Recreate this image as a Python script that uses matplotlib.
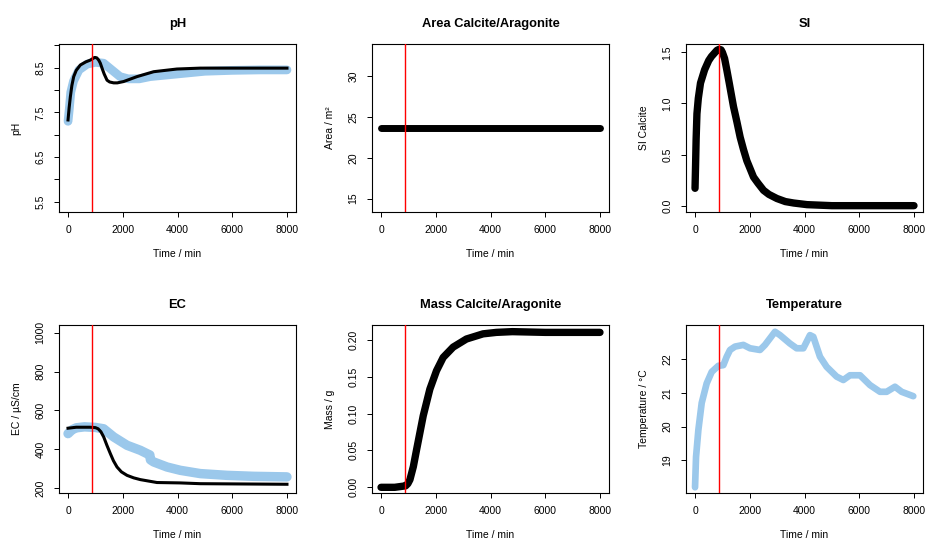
import matplotlib.pyplot as plt
import numpy as np

plt.rcParams['font.family'] = ['Liberation Sans', 'DejaVu Sans']

# valores
t_exp = 870  # linea roja

ph_mod_t = [0, 40, 85, 140, 207, 300, 450, 650, 816, 974, 1050, 1120, 1180, 1242, 1320, 1425, 1520, 1668, 1800,
            2033, 2520, 3130, 3980, 4834, 6000, 8000]
ph_mod = [7.33, 7.6, 7.85, 8.1, 8.30, 8.44, 8.56, 8.63, 8.67, 8.73, 8.72, 8.67, 8.6, 8.49, 8.36, 8.22, 8.18, 8.16,
          8.16, 8.19, 8.30, 8.41, 8.47, 8.49, 8.49, 8.49]
ph_obs_t = [0, 50, 100, 200, 400, 700, 1000, 1300, 1600, 1900, 2200, 2600, 3000, 4000, 5000, 6000, 7000, 8000]
ph_obs = [7.3, 7.6, 7.95, 8.2, 8.45, 8.58, 8.62, 8.6, 8.45, 8.3, 8.25, 8.25, 8.3, 8.36, 8.42, 8.44, 8.45, 8.45]

area_t = [0, 2000, 4000, 6000, 8000]
area = [23.6, 23.6, 23.6, 23.6, 23.6]

si_t = [0, 20, 40, 70, 120, 200, 350, 500, 600, 700, 800, 880, 950, 1000, 1080, 1160, 1250, 1405, 1530, 1649, 1770,
        1893, 2000, 2137, 2300, 2504, 2700, 2992, 3300, 3603, 4092, 5000, 6000, 8000]
si = [0.17, 0.4, 0.65, 0.9, 1.05, 1.2, 1.33, 1.42, 1.46, 1.49, 1.52, 1.53, 1.525, 1.5, 1.44, 1.33, 1.2, 0.97, 0.82,
      0.67, 0.55, 0.44, 0.37, 0.28, 0.22, 0.15, 0.11, 0.07, 0.04, 0.026, 0.01, 0.0, 0.0, 0.0]

ec_mod_t = [0, 300, 800, 1000, 1100, 1200, 1303, 1420, 1546, 1660, 1790, 1950, 2155, 2400, 2642, 3250, 4100, 4834, 8000]
ec_mod = [508, 513, 513, 511, 505, 490, 463, 420, 377, 340, 308, 283, 265, 252, 243, 228, 226, 222, 219]
ec_obs_t = [0, 150, 300, 600, 1000, 1300, 1668, 2155, 2642, 2885, 2990, 3010, 3130, 3617, 4100, 4834, 5810, 6780, 8000]
ec_obs = [480, 500, 510, 515, 512, 505, 463, 420, 394, 377, 370, 345, 334, 308, 291, 274, 265, 260, 257]

mass_t = [0, 500, 898, 980, 1056, 1180, 1299, 1542, 1784, 2027, 2270, 2634, 3120, 3727, 4213, 4800, 6000, 8000]
mass = [0.0, 0.0, 0.002, 0.005, 0.0104, 0.028, 0.051, 0.097, 0.133, 0.158, 0.176, 0.19, 0.201, 0.208, 0.21, 0.211,
        0.21, 0.21]

temp_t = [0, 37, 122, 244, 426, 609, 852, 1035, 1157, 1278, 1461, 1766, 2009, 2374, 2557, 2922, 3105, 3470,
          3713, 3957, 4200, 4322, 4566, 4809, 5174, 5418, 5662, 6027, 6392, 6758, 7001, 7306, 7549, 7975]
temp = [18.2, 19.1, 19.9, 20.7, 21.28, 21.62, 21.8, 21.82, 22.07, 22.27, 22.37, 22.42, 22.32, 22.27, 22.42, 22.81,
        22.71, 22.46, 22.32, 22.32, 22.71, 22.66, 22.07, 21.77, 21.48, 21.38, 21.52, 21.52, 21.23, 21.03, 21.03,
        21.18, 21.03, 20.9]

azul = '#9BC8EB'
W, H = 927, 546
fig = plt.figure(figsize=(W / 100, H / 100), dpi=100)

cols = [59, 372, 686]
rows = [44, 325]
aw, ah = 237, 168


def panel(r, c, titulo, ylab, ylim, yticks, ylabels=None):
    ax = fig.add_axes([cols[c] / W, 1 - (rows[r] + ah) / H, aw / W, ah / H])
    ax.set_xlim(-330, 8330)
    ax.set_ylim(*ylim)
    ax.set_xticks([0, 2000, 4000, 6000, 8000])
    ax.set_yticks(yticks)
    if ylabels is not None:
        ax.set_yticklabels(ylabels)
    for lab in ax.get_yticklabels():
        lab.set_rotation(90)
        lab.set_va('center')
    ax.tick_params(direction='out', length=3.6, width=0.7, labelsize=7.5, pad=6)
    for s in ax.spines.values():
        s.set_linewidth(0.8)
    ax.set_title(titulo, fontsize=9.3, fontweight='bold', pad=12)
    ax.set_xlabel('Time / min', fontsize=7.5, labelpad=10)
    ax.set_ylabel(ylab, fontsize=7.5, labelpad=10)
    ax.axvline(t_exp, color='red', lw=1, zorder=5)
    return ax


ax = panel(0, 0, 'pH', 'pH', (5.27, 9.03), np.arange(5.5, 9.01, 0.5),
           ['5.5', '', '6.5', '', '7.5', '', '8.5', ''])
ax.plot(ph_obs_t, ph_obs, color=azul, lw=6.3, solid_capstyle='round', solid_joinstyle='round')
ax.plot(ph_mod_t, ph_mod, color='black', lw=2.2)

ax = panel(0, 1, 'Area Calcite/Aragonite', 'Area / m²', (13.37, 33.9), [15, 20, 25, 30])
ax.plot(area_t, area, color='black', lw=5, solid_capstyle='round')

ax = panel(0, 2, 'SI', 'SI Calcite', (-0.062, 1.582), [0.0, 0.5, 1.0, 1.5], ['0.0', '0.5', '1.0', '1.5'])
ax.plot(si_t, si, color='black', lw=5.3, solid_capstyle='round', solid_joinstyle='round')

ax = panel(1, 0, 'EC', 'EC / µS/cm', (174, 1040), [200, 400, 600, 800, 1000])
ax.plot(ec_obs_t, ec_obs, color=azul, lw=6.8, solid_capstyle='round', solid_joinstyle='round')
ax.plot(ec_mod_t, ec_mod, color='black', lw=2.2)

ax = panel(1, 1, 'Mass Calcite/Aragonite', 'Mass / g', (-0.0077, 0.22), [0, 0.05, 0.10, 0.15, 0.20],
           ['0.00', '0.05', '0.10', '0.15', '0.20'])
ax.plot(mass_t, mass, color='black', lw=5.3, solid_capstyle='round', solid_joinstyle='round')

ax = panel(1, 2, 'Temperature', 'Temperature / °C', (18.03, 23.01), [19, 20, 21, 22])
ax.plot(temp_t, temp, color=azul, lw=4.8, solid_capstyle='round', solid_joinstyle='round')

fig.savefig('out.png', dpi=100)
